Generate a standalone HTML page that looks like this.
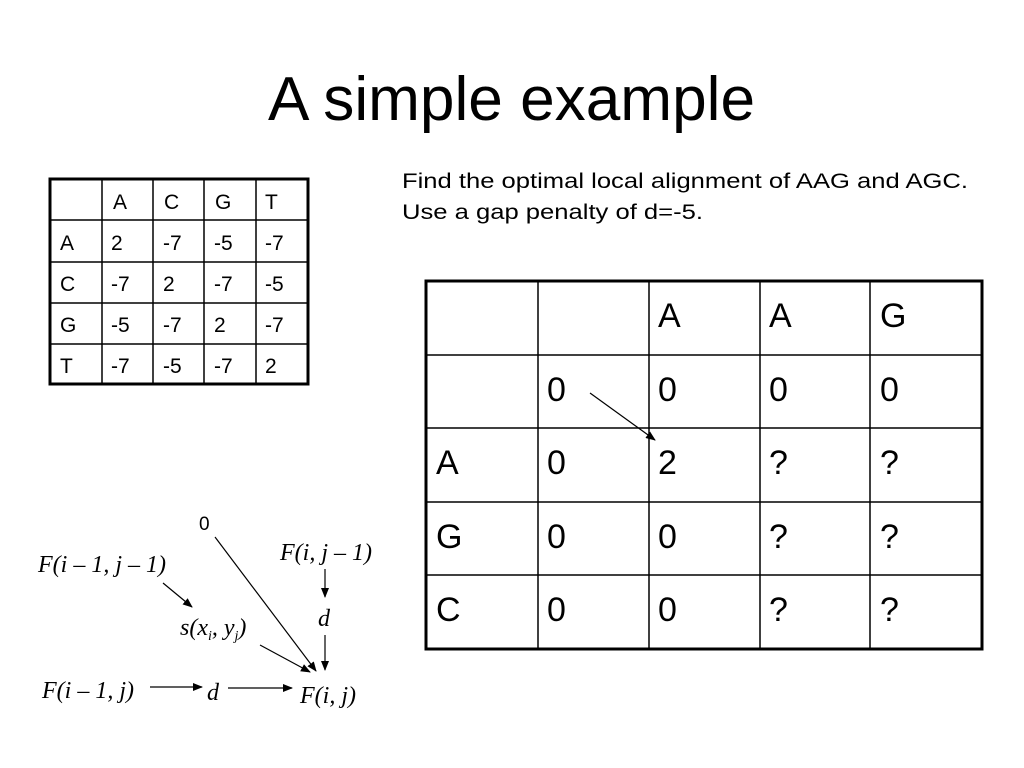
<!DOCTYPE html>
<html><head><style>
body{margin:0;width:1024px;height:768px;background:#fff;overflow:hidden}
svg{position:absolute;left:0;top:0}
.s{font-family:"Liberation Sans",sans-serif}
.m{font-family:"Liberation Serif",serif;font-style:italic}
</style></head><body>
<svg width="1024" height="768" viewBox="0 0 1024 768">
<defs><marker id="a" markerWidth="10" markerHeight="8" refX="9" refY="4" orient="auto" markerUnits="userSpaceOnUse"><path d="M0,0 L10,4 L0,8z" fill="#000"/></marker></defs>
<text x="268" y="120" class="s" font-size="62" textLength="487" lengthAdjust="spacingAndGlyphs">A simple example</text>
<text x="402" y="188" class="s" font-size="21" textLength="566" lengthAdjust="spacingAndGlyphs">Find the optimal local alignment of AAG and AGC.</text>
<text x="402" y="219" class="s" font-size="21" textLength="301" lengthAdjust="spacingAndGlyphs">Use a gap penalty of d=-5.</text>
<!-- small table -->
<g stroke="#000" stroke-width="1.5" fill="none">
<rect x="50" y="179" width="258" height="205" stroke-width="3"/>
<line x1="102" y1="179" x2="102" y2="384"/><line x1="153" y1="179" x2="153" y2="384"/><line x1="204" y1="179" x2="204" y2="384"/><line x1="256" y1="179" x2="256" y2="384"/>
<line x1="50" y1="220" x2="308" y2="220"/><line x1="50" y1="262" x2="308" y2="262"/><line x1="50" y1="303" x2="308" y2="303"/><line x1="50" y1="344" x2="308" y2="344"/>
</g>
<g class="s" font-size="21">
<text x="113" y="209">A</text><text x="164" y="209">C</text><text x="215" y="209">G</text><text x="265" y="209">T</text>
<text x="60" y="250">A</text><text x="111" y="250">2</text><text x="163" y="250">-7</text><text x="214" y="250">-5</text><text x="265" y="250">-7</text>
<text x="60" y="291">C</text><text x="111" y="291">-7</text><text x="163" y="291">2</text><text x="214" y="291">-7</text><text x="265" y="291">-5</text>
<text x="60" y="332">G</text><text x="111" y="332">-5</text><text x="163" y="332">-7</text><text x="214" y="332">2</text><text x="265" y="332">-7</text>
<text x="60" y="373">T</text><text x="111" y="373">-7</text><text x="163" y="373">-5</text><text x="214" y="373">-7</text><text x="265" y="373">2</text>
</g>
<!-- big table -->
<g stroke="#000" stroke-width="1.5" fill="none">
<rect x="426" y="281" width="556" height="368" stroke-width="3"/>
<line x1="538" y1="281" x2="538" y2="649"/><line x1="649" y1="281" x2="649" y2="649"/><line x1="760" y1="281" x2="760" y2="649"/><line x1="870" y1="281" x2="870" y2="649"/>
<line x1="426" y1="355" x2="982" y2="355"/><line x1="426" y1="428" x2="982" y2="428"/><line x1="426" y1="502" x2="982" y2="502"/><line x1="426" y1="575" x2="982" y2="575"/>
</g>
<g class="s" font-size="34">
<text x="658" y="327">A</text><text x="769" y="327">A</text><text x="880" y="327">G</text>
<text x="547" y="401">0</text><text x="658" y="401">0</text><text x="769" y="401">0</text><text x="880" y="401">0</text>
<text x="436" y="474">A</text><text x="547" y="474">0</text><text x="658" y="474">2</text><text x="769" y="474">?</text><text x="880" y="474">?</text>
<text x="436" y="548">G</text><text x="547" y="548">0</text><text x="658" y="548">0</text><text x="769" y="548">?</text><text x="880" y="548">?</text>
<text x="436" y="621">C</text><text x="547" y="621">0</text><text x="658" y="621">0</text><text x="769" y="621">?</text><text x="880" y="621">?</text>
</g>
<line x1="590" y1="393" x2="655" y2="440" stroke="#000" stroke-width="1.2" marker-end="url(#a)"/>
<!-- diagram -->
<g class="m" font-size="24">
<text x="38" y="572">F(i – 1, j – 1)</text>
<text x="280" y="560">F(i, j – 1)</text>
<text x="180" y="635">s(x<tspan font-size="14" dy="5">i</tspan><tspan dy="-5">, y</tspan><tspan font-size="14" dy="5">j</tspan><tspan dy="-5">)</tspan></text>
<text x="318" y="626">d</text>
<text x="42" y="698">F(i – 1, j)</text>
<text x="207" y="700">d</text>
<text x="300" y="703">F(i, j)</text>
</g>
<text x="199" y="530" class="s" font-size="19">0</text>
<g stroke="#000" stroke-width="1.2" marker-end="url(#a)">
<line x1="163" y1="583" x2="192" y2="607"/>
<line x1="215" y1="537" x2="316" y2="671"/>
<line x1="260" y1="645" x2="310" y2="672"/>
<line x1="325" y1="569" x2="325" y2="597"/>
<line x1="325" y1="635" x2="325" y2="670"/>
<line x1="150" y1="687" x2="202" y2="687"/>
<line x1="228" y1="688" x2="292" y2="688"/>
</g>
</svg>
</body></html>
